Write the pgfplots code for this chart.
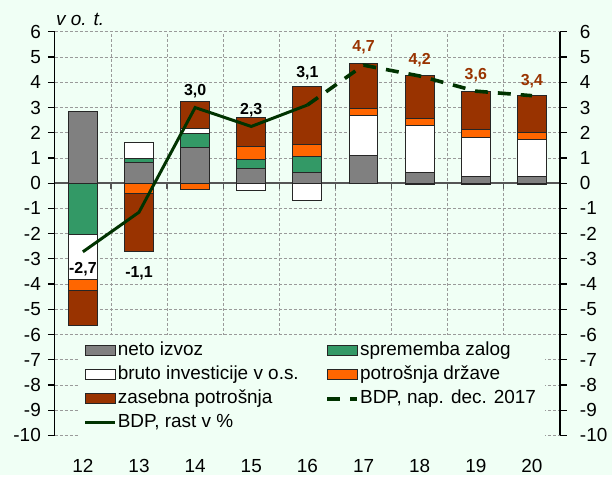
\documentclass[border=0pt]{standalone}
\usepackage{fontspec}
\setmainfont{Liberation Sans}
\usepackage{pgfplots}
\usepackage{pgfplotstable}
\pgfplotsset{compat=1.18}
\usetikzlibrary{backgrounds}

\definecolor{bgmint}{HTML}{F0FFF5}
\definecolor{cgray}{HTML}{808080}
\definecolor{cgreen}{HTML}{339966}
\definecolor{corange}{HTML}{FF6600}
\definecolor{cbrown}{HTML}{993300}
\definecolor{cline}{HTML}{003300}
\definecolor{barline}{HTML}{262626}
\definecolor{gridc}{HTML}{9A9A9A}
\definecolor{zeroc}{HTML}{555555}

% positive parts of the contributions (stacked up from 0)
\pgfplotstableread{
x gray green white orange brown
0 2.85 0    0    0    0
1 0.84 0.15 0.64 0    0
2 1.40 0.56 0.20 0    1.08
3 0.58 0.36 0    0.51 1.15
4 0.41 0.66 0    0.47 2.29
5 1.08 0    1.59 0.31 1.76
6 0.42 0    1.86 0.28 1.72
7 0.25 0    1.58 0.30 1.52
8 0.25 0    1.49 0.26 1.48
}\postable
% negative parts (stacked down from 0)
\pgfplotstableread{
x gray green white orange brown
0 0 -2.05 -1.77 -0.44 -1.38
1 0  0     0    -0.41 -2.30
2 0  0     0    -0.24  0
3 0  0    -0.30  0     0
4 0  0    -0.67  0     0
5 0  0     0     0     0
6 0 -0.05  0     0     0
7 0 -0.05  0     0     0
8 0 -0.05  0     0     0
}\negtable

\pgfplotsset{
  base/.style={
    width=253.5pt, height=202.5pt, scale only axis,
    xmin=-0.5, xmax=8.5, ymin=-10, ymax=6,
    clip=false,
  },
  seg/.style={fill=#1, draw=barline, line width=0.5pt},
  barlegend/.style={legend image code/.code={\draw[fill=#1, draw=barline, line width=0.5pt] (0pt,-2.5pt) rectangle (15pt,2.5pt);}},
  linelegend/.style={legend image code/.code={\draw[##1] (0pt,0pt) -- (15pt,0pt);}},
  tickfont/.style={
    ticklabel style={font=\fontsize{9.5}{11}\selectfont},
    /pgf/number format/assume math mode=true,
  },
}

\begin{document}
\begin{tikzpicture}

% grid, left axis, categories, negative parts
\begin{axis}[base, tickfont,
  axis y line*=left, axis x line*=bottom,
  x axis line style={draw=none},
  y axis line style={black, line width=0.6pt},
  ytick={-10,-9,...,6},
  tick align=outside, major tick length=3.5pt,
  major tick style={black, line width=0.6pt},
  xtick={0,1,2,3,4,5,6,7,8},
  xticklabels={12,13,14,15,16,17,18,19,20},
  major x tick style={draw=none},
  xticklabel style={yshift=-5pt},
  minor xtick={0.5,1.5,2.5,3.5,4.5,5.5,6.5,7.5},
  minor x tick style={draw=none},
  xminorgrids, ymajorgrids,
  grid style={gridc, line width=0.4pt, dash pattern=on 1.5pt off 1pt},
  minor grid style={gridc, line width=0.4pt, dash pattern=on 1.5pt off 1pt},
  extra y ticks={0}, extra y tick labels={},
  extra y tick style={grid style={zeroc, line width=0.8pt, solid}},
  ybar stacked, bar width=14.5pt,
]
\addplot[seg=cgray]   table[x=x, y=gray]   {\negtable};
\addplot[seg=cgreen]  table[x=x, y=green]  {\negtable};
\addplot[seg=white]   table[x=x, y=white]  {\negtable};
\addplot[seg=corange] table[x=x, y=orange] {\negtable};
\addplot[seg=cbrown]  table[x=x, y=brown]  {\negtable};
\pgfplotsinvokeforeach{0.5,1.5,2.5,3.5,4.5,5.5,6.5,7.5}{
  \draw[zeroc, line width=0.6pt] (axis cs:#1,0) -- ++(0pt,-3pt);
}
\node[font=\itshape\fontsize{9.5}{11}\selectfont] at (rel axis cs:0.05,1.03) {v o. t.};
\end{axis}

% positive parts
\begin{axis}[base, hide axis, ybar stacked, bar width=14.5pt]
\addplot[seg=cgray]   table[x=x, y=gray]   {\postable};
\addplot[seg=cgreen]  table[x=x, y=green]  {\postable};
\addplot[seg=white]   table[x=x, y=white]  {\postable};
\addplot[seg=corange] table[x=x, y=orange] {\postable};
\addplot[seg=cbrown]  table[x=x, y=brown]  {\postable};
\end{axis}

% right axis, GDP lines, labels, legend
\begin{axis}[base, tickfont,
  axis y line*=right, axis x line=none,
  y axis line style={black, line width=0.6pt},
  xtick=\empty,
  ytick={-10,-9,...,6},
  tick align=outside, major tick length=3.5pt,
  major tick style={black, line width=0.6pt},
  yticklabel style={xshift=3pt},
  legend columns=2,
  legend cell align=left,
  legend style={
    at={(rel axis cs:0.045,0.25)}, anchor=north west,
    fill=bgmint, draw=none,
    font=\fontsize{9.5}{11}\selectfont,
    row sep=0pt,
    nodes={text height=7pt, text depth=2pt, inner sep=1.5pt},
    /tikz/every odd column/.append style={column sep=-1pt},
    /tikz/every even column/.append style={column sep=12pt},
  },
]
\addlegendimage{barlegend=cgray}
\addlegendentry{neto izvoz}
\addlegendimage{barlegend=cgreen}
\addlegendentry{sprememba zalog}
\addlegendimage{barlegend=white}
\addlegendentry{bruto investicije v o.s.}
\addlegendimage{barlegend=corange}
\addlegendentry{potrošnja države}
\addlegendimage{barlegend=cbrown}
\addlegendentry{zasebna potrošnja}

\addplot[cline, line width=1.8pt, dash pattern=on 6.5pt off 5pt, linelegend]
  coordinates {(4,3.1) (5,4.68) (6,4.25) (7,3.65) (8,3.47)};
\addlegendentry{BDP, nap. dec. 2017}
\addplot[cline, line width=1.5pt, linelegend]
  coordinates {(0,-2.72) (1,-1.15) (2,3.0) (3,2.25) (4,3.1)};
\addlegendentry{BDP, rast v \%}

\tikzset{lab/.style={font=\bfseries\fontsize{8}{9.5}\selectfont, inner sep=0pt}}
\node[lab] at (axis cs:0,-3.40) {-2,7};
\node[lab] at (axis cs:1,-3.56) {-1,1};
\node[lab] at (axis cs:2,3.65) {3,0};
\node[lab] at (axis cs:3,2.89) {2,3};
\node[lab] at (axis cs:4,4.35) {3,1};
\node[lab, text=cbrown] at (axis cs:5,5.38) {4,7};
\node[lab, text=cbrown] at (axis cs:6,4.86) {4,2};
\node[lab, text=cbrown] at (axis cs:7,4.27) {3,6};
\node[lab, text=cbrown] at (axis cs:8,4.03) {3,4};

\coordinate (bbsw) at (rel axis cs:-0.1085,-0.0988);
\coordinate (bbne) at (rel axis cs:1.1026,1.079);
\end{axis}

\begin{scope}[on background layer]
\fill[bgmint] (bbsw) rectangle (bbne);
\end{scope}
\end{tikzpicture}
\end{document}
